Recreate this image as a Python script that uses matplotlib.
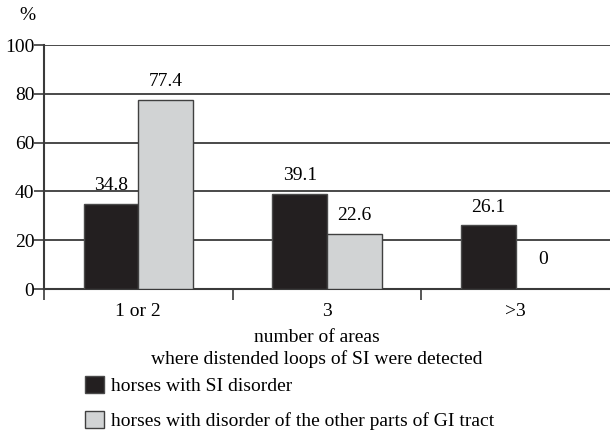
import numpy as np
import matplotlib
matplotlib.use("Agg")
import matplotlib.pyplot as plt
from matplotlib.patches import Patch

categories = ["1 or 2", "3", ">3"]
si_disorder = [34.8, 39.1, 26.1]
other_gi = [77.4, 22.6, 0]
series_names = ["horses with SI disorder",
                "horses with disorder of the other parts of GI tract"]
yticks = [0, 20, 40, 60, 80, 100]

plt.rcParams['font.family'] = ['Liberation Serif', 'DejaVu Serif']
fs = 14

black = '#231f20'
grey = '#d1d3d4'
line_col = '#3a3a3a'

fig = plt.figure(figsize=(6.10, 4.38), dpi=100)
ax = fig.add_axes([44 / 610, 1 - 289 / 438, 1 - 44 / 610, 244 / 438])

x = np.arange(len(categories))
w = 0.29
b1 = ax.bar(x - w / 2, si_disorder, w, color=black, edgecolor='#4a4a4a', linewidth=1.0, zorder=3)
b2 = ax.bar(x + w / 2, other_gi, w, color=grey, edgecolor='#404040', linewidth=1.0, zorder=3)
b2[2].set_visible(False)

for rect, v in zip(list(b1) + list(b2), si_disorder + other_gi):
    ypos = v + 7.5 if v > 0 else 12
    ax.text(rect.get_x() + rect.get_width() / 2, ypos, f"{v:g}", ha='center', va='center', fontsize=fs)

ax.set_xlim(-0.5, 2.5)
ax.set_ylim(0, 100)
ax.set_yticks(yticks)
ax.set_yticklabels([str(t) for t in yticks], fontsize=fs)
ax.yaxis.grid(True, color=line_col, linewidth=1.3, zorder=0)
ax.set_axisbelow(True)
ax.tick_params(axis='y', length=7, width=1.2, color=line_col, pad=0)

# divider ticks between categories, labels at the centres
ax.set_xticks([-0.5, 0.5, 1.5])
ax.set_xticklabels([])
ax.set_xticks(x, minor=True)
ax.set_xticklabels(categories, minor=True, fontsize=fs)
ax.tick_params(axis='x', which='major', length=8, width=1.2, color=line_col)
ax.tick_params(axis='x', which='minor', length=0, pad=10)

for s in ['top', 'right']:
    ax.spines[s].set_visible(False)
for s in ['left', 'bottom']:
    ax.spines[s].set_color(line_col)
    ax.spines[s].set_linewidth(1.5)

fig.text(27 / 610, 1 - 16 / 438, "%", ha='center', va='center', fontsize=fs)
fig.text(317 / 610, 1 - 338 / 438, "number of areas", ha='center', va='center', fontsize=fs)
fig.text(317 / 610, 1 - 359 / 438, "where distended loops of SI were detected", ha='center', va='center', fontsize=fs)

handles = [Patch(facecolor=black, edgecolor='#4a4a4a'),
           Patch(facecolor=grey, edgecolor='#404040')]
fig.legend(handles, series_names, loc='upper left', bbox_to_anchor=(85 / 610, 1 - 376 / 438),
           frameon=False, fontsize=fs, handlelength=1.0, handleheight=1.0,
           handletextpad=0.36, labelspacing=0.8, borderpad=0, borderaxespad=0)

fig.savefig("out.png", dpi=100)
